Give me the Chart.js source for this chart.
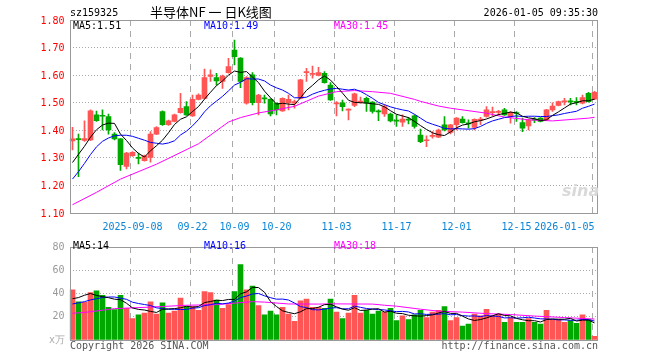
<!DOCTYPE html>
<html><head><meta charset="utf-8">
<script src="https://cdn.jsdelivr.net/npm/chart.js@4.4.1/dist/chart.umd.min.js"></script>
<style>
html,body{margin:0;padding:0;background:#fff;}
#wrap{position:relative;width:660px;height:360px;overflow:hidden;background:#fff;}
canvas{position:absolute;left:0;}
.t{position:absolute;font:10px "DejaVu Sans Mono",monospace;line-height:12px;white-space:pre;}
</style></head><body>
<div id="wrap">
<canvas id="k" width="660" height="236" style="top:0"></canvas>
<canvas id="v" width="660" height="124" style="top:236px"></canvas>
<div class="t" style="left:70px;top:7px;color:#000">sz159325</div>
<div class="t" style="left:150px;top:4px;font:13px 'Noto Sans CJK SC',sans-serif;line-height:16px;color:#000">半导体NF 一 日K线图</div>
<div class="t" style="right:62px;top:7px;color:#000">2026-01-05 09:35:30</div>
<div class="t" style="left:73px;top:20px;color:#000">MA5:1.51</div>
<div class="t" style="left:204px;top:20px;color:#0000ff">MA10:1.49</div>
<div class="t" style="left:334px;top:20px;color:#ff00ff">MA30:1.45</div>
<div class="t" style="left:73px;top:240px;color:#000">MA5:14</div>
<div class="t" style="left:204px;top:240px;color:#0000ff">MA10:16</div>
<div class="t" style="left:334px;top:240px;color:#ff00ff">MA30:18</div>
<div class="t" style="left:49px;top:334px;color:#aaa">x万</div>
<div class="t" style="left:70px;top:340px;color:#555">Copyright 2026 SINA.COM</div>
<div class="t" style="right:62px;top:340px;color:#555">http://finance.sina.com.cn</div>
<div class="t" style="left:562px;top:181px;font:italic bold 16px 'DejaVu Sans',sans-serif;color:#d9d9d9">sina</div>
</div>
<script>
const dates = ['2025-08-25','2025-08-26','2025-08-27','2025-08-28','2025-08-29',
'2025-09-01','2025-09-02','2025-09-03','2025-09-04','2025-09-05',
'2025-09-08','2025-09-09','2025-09-10','2025-09-11','2025-09-12',
'2025-09-15','2025-09-16','2025-09-17','2025-09-18','2025-09-19',
'2025-09-22','2025-09-23','2025-09-24','2025-09-25','2025-09-26','2025-09-29','2025-09-30',
'2025-10-09','2025-10-10','2025-10-13','2025-10-14','2025-10-15','2025-10-16','2025-10-17',
'2025-10-20','2025-10-21','2025-10-22','2025-10-23','2025-10-24',
'2025-10-27','2025-10-28','2025-10-29','2025-10-30','2025-10-31',
'2025-11-03','2025-11-04','2025-11-05','2025-11-06','2025-11-07',
'2025-11-10','2025-11-11','2025-11-12','2025-11-13','2025-11-14',
'2025-11-17','2025-11-18','2025-11-19','2025-11-20','2025-11-21',
'2025-11-24','2025-11-25','2025-11-26','2025-11-27','2025-11-28',
'2025-12-01','2025-12-02','2025-12-03','2025-12-04','2025-12-05',
'2025-12-08','2025-12-09','2025-12-10','2025-12-11','2025-12-12',
'2025-12-15','2025-12-16','2025-12-17','2025-12-18','2025-12-19',
'2025-12-22','2025-12-23','2025-12-24','2025-12-25','2025-12-26',
'2025-12-29','2025-12-30','2025-12-31','2026-01-05'];

const open = [1.361,1.370,1.363,1.365,1.456,1.453,1.450,1.386,1.369,1.269,
1.308,1.300,1.290,1.302,1.386,1.468,1.420,1.432,1.464,1.486,
1.452,1.512,1.516,1.595,1.591,1.577,1.609,1.691,1.662,1.498,
1.601,1.500,1.517,1.512,1.498,1.470,1.500,1.498,1.516,1.609,
1.603,1.599,1.607,1.564,1.496,1.500,1.473,1.490,1.502,1.516,
1.502,1.469,1.459,1.459,1.435,1.429,1.440,1.452,1.383,1.362,
1.378,1.375,1.420,1.392,1.420,1.441,1.425,1.410,1.437,1.450,
1.464,1.465,1.474,1.450,1.463,1.428,1.416,1.439,1.444,1.438,
1.474,1.490,1.503,1.506,1.504,1.498,1.534,1.513];
const high = [1.411,1.386,1.434,1.474,1.470,1.474,1.459,1.392,1.370,1.320,
1.323,1.317,1.310,1.395,1.413,1.471,1.437,1.459,1.534,1.504,
1.528,1.532,1.622,1.619,1.607,1.600,1.661,1.727,1.664,1.595,
1.609,1.530,1.528,1.515,1.500,1.518,1.528,1.510,1.585,1.625,
1.633,1.628,1.613,1.573,1.504,1.510,1.478,1.535,1.520,1.520,
1.504,1.474,1.492,1.462,1.456,1.456,1.447,1.456,1.404,1.380,
1.395,1.404,1.450,1.422,1.446,1.450,1.438,1.442,1.447,1.486,
1.484,1.472,1.480,1.468,1.468,1.444,1.440,1.446,1.446,1.476,
1.500,1.506,1.516,1.516,1.519,1.528,1.538,1.541];
const low = [1.329,1.232,1.360,1.362,1.432,1.401,1.386,1.365,1.254,1.260,
1.305,1.278,1.288,1.284,1.384,1.418,1.418,1.430,1.462,1.454,
1.450,1.510,1.514,1.577,1.564,1.552,1.607,1.637,1.555,1.495,
1.492,1.456,1.498,1.452,1.456,1.468,1.474,1.480,1.514,1.577,
1.589,1.597,1.571,1.508,1.452,1.470,1.438,1.486,1.498,1.468,
1.462,1.435,1.450,1.430,1.414,1.414,1.423,1.408,1.355,1.341,
1.371,1.373,1.398,1.387,1.401,1.426,1.408,1.401,1.420,1.448,
1.452,1.456,1.454,1.426,1.432,1.395,1.401,1.428,1.430,1.436,
1.468,1.488,1.492,1.492,1.492,1.496,1.502,1.511];
const close = [1.369,1.366,1.370,1.471,1.435,1.451,1.401,1.369,1.275,1.317,
1.320,1.298,1.307,1.386,1.410,1.420,1.434,1.456,1.480,1.456,
1.512,1.528,1.591,1.601,1.579,1.597,1.631,1.667,1.577,1.591,
1.500,1.528,1.514,1.459,1.474,1.516,1.512,1.504,1.583,1.612,
1.606,1.609,1.573,1.510,1.499,1.486,1.476,1.532,1.505,1.498,
1.468,1.467,1.486,1.434,1.433,1.441,1.437,1.414,1.359,1.365,
1.381,1.401,1.401,1.420,1.444,1.428,1.423,1.440,1.439,1.474,
1.467,1.467,1.456,1.464,1.461,1.408,1.438,1.437,1.432,1.474,
1.488,1.504,1.506,1.503,1.501,1.519,1.504,1.538];
const volume = [43.2,32.8,32.3,40.8,42.4,38.4,28.0,26.1,38.4,27.2,
18.4,21.6,23.2,32.8,22.4,32.0,23.2,24.8,36.0,28.8,
28.8,25.6,41.6,40.8,34.4,27.2,30.4,41.6,64.8,43.2,
46.4,29.6,21.6,24.8,21.6,28.0,22.4,16.0,33.6,35.2,
28.0,28.0,27.2,35.2,24.0,18.4,23.2,38.4,23.2,25.6,
22.4,24.8,24.0,27.2,16.8,20.8,17.6,21.6,25.6,19.2,
24.0,25.6,28.8,16.8,19.2,12.0,13.6,22.4,20.8,26.4,
20.8,22.4,15.2,19.2,15.2,15.2,18.4,15.2,13.6,25.6,
17.6,17.6,15.2,16.8,14.4,21.6,17.6,3.2];

const ma5 = [1.283,1.313,1.342,1.375,1.402,1.419,1.426,1.425,1.386,1.363,
1.336,1.316,1.303,1.326,1.344,1.364,1.391,1.421,1.440,1.449,
1.468,1.486,1.513,1.538,1.562,1.579,1.600,1.615,1.610,1.613,
1.593,1.573,1.542,1.518,1.495,1.498,1.495,1.493,1.518,1.545,
1.563,1.583,1.597,1.582,1.559,1.535,1.509,1.501,1.500,1.499,
1.496,1.494,1.485,1.471,1.458,1.452,1.446,1.432,1.417,1.403,
1.391,1.384,1.381,1.394,1.409,1.419,1.423,1.431,1.435,1.441,
1.449,1.457,1.461,1.466,1.463,1.451,1.445,1.442,1.435,1.438,
1.454,1.467,1.481,1.495,1.500,1.507,1.507,1.513];
const ma10 = [1.223,1.250,1.280,1.312,1.340,1.360,1.372,1.380,1.382,1.382,
1.378,1.371,1.364,1.356,1.353,1.350,1.354,1.362,1.383,1.397,
1.416,1.439,1.467,1.489,1.506,1.523,1.543,1.564,1.574,1.587,
1.586,1.586,1.579,1.564,1.554,1.546,1.534,1.518,1.518,1.520,
1.531,1.539,1.545,1.550,1.552,1.549,1.546,1.549,1.541,1.529,
1.516,1.501,1.493,1.485,1.479,1.474,1.470,1.458,1.444,1.430,
1.422,1.415,1.407,1.405,1.406,1.405,1.404,1.406,1.414,1.425,
1.434,1.440,1.446,1.450,1.452,1.450,1.451,1.451,1.450,1.450,
1.453,1.456,1.461,1.465,1.469,1.480,1.487,1.495];
const N = null;
const ma30 = [1.130,N,N,N,1.175,N,N,N,1.223,N,
N,N,N,N,1.277,N,N,N,N,N,
N,1.351,N,N,N,N,1.430,N,1.446,N,
N,1.463,N,N,1.474,N,N,1.487,N,N,
N,1.524,N,N,1.540,N,N,1.544,N,N,
1.540,N,N,1.534,N,N,N,1.512,1.505,N,
N,1.488,N,1.480,N,N,N,N,N,1.462,
N,N,1.448,N,N,N,1.438,N,N,N,
1.434,N,N,N,N,N,1.444,1.447];

const vma5 = [35.5,36.5,38.5,40.0,38.3,37.3,36.4,35.1,34.7,31.6,
27.6,26.3,25.8,24.6,23.7,26.4,26.7,27.0,27.7,29.0,
28.3,28.8,32.2,33.1,34.2,33.9,34.9,34.9,39.7,41.4,
45.3,45.1,41.1,33.1,28.8,25.1,23.7,22.6,24.3,27.0,
27.0,28.2,30.4,30.7,28.5,26.6,25.6,27.8,25.4,25.8,
26.6,26.9,24.0,24.8,23.0,22.7,21.3,20.8,20.5,21.0,
21.6,23.2,24.6,22.9,22.9,20.5,18.1,16.8,17.6,19.0,
20.8,22.6,21.1,20.8,18.6,17.4,16.6,16.6,15.5,17.6,
18.1,17.9,17.9,18.6,16.3,17.1,17.1,14.7];
const vma10 = [31.0,32.0,33.0,34.5,35.5,36.5,37.0,37.0,36.0,35.0,
32.5,31.4,30.5,29.7,27.7,27.0,26.5,26.4,26.2,26.3,
27.4,27.8,29.6,30.4,31.6,31.1,31.8,33.5,36.4,37.8,
39.6,40.0,38.0,36.4,35.1,35.2,34.4,31.8,28.7,27.9,
26.1,25.9,26.5,27.5,27.8,26.8,26.9,29.1,28.1,27.1,
26.6,26.2,25.9,25.1,24.4,24.6,24.1,22.4,22.6,22.0,
22.2,22.2,22.7,21.7,21.9,21.0,20.6,20.7,20.2,21.0,
20.6,20.3,19.0,19.2,18.8,19.1,19.6,18.9,18.2,18.1,
17.8,17.3,17.3,17.0,17.0,17.6,17.5,16.3];
const vma30 = [23.0,N,23.7,N,N,25.6,N,27.0,N,N,
N,N,N,28.3,N,N,N,N,N,29.9,
N,N,N,N,30.4,N,N,31.7,N,N,
33.0,N,32.6,N,N,N,31.0,N,N,N,
N,30.9,N,31.1,N,N,N,N,N,N,
30.9,N,29.9,N,29.1,N,N,N,26.5,N,
N,24.8,N,N,N,24.0,N,N,N,22.7,
N,N,N,21.9,N,N,N,20.6,N,N,
N,N,19.3,N,N,N,N,18.0];

const tickIdx = [10,20,27,34,44,54,64,74,87];
const tickText = ['2025-09-08','09-22','10-09','10-20','11-03','11-17','12-01','12-15','2026-01-05'];
const priceTicks = [1.10,1.20,1.30,1.40,1.50,1.60,1.70,1.80];
const volTicks = [0,20,40,60,80];

const RED = '#ff5555', GREEN = '#00a800';
const upColor = i => close[i] >= open[i] ? RED : GREEN;
const MONO = 'DejaVu Sans Mono';

const frame = { id:'frame', afterDraw(c){
  const a=c.chartArea, x=c.ctx;
  const l=Math.round(a.left), t=Math.round(a.top), r=Math.round(a.right), b=Math.round(a.bottom);
  x.save(); x.strokeStyle='#999'; x.lineWidth=1;
  x.strokeRect(l+0.5, t+0.5, r-l-1, b-t);
  x.restore();
}};
// dashed vertical lines at the labelled dates, placed from the x scale
const vgrid = { id:'vgrid', beforeDatasetsDraw(c){
  const s=c.scales.x, a=c.chartArea, x=c.ctx;
  x.save(); x.strokeStyle='#aaaaaa'; x.lineWidth=1; x.setLineDash([6,5]);
  tickIdx.forEach(i=>{
    const px = Math.round((s.getPixelForTick(i)+s.getPixelForTick(i-1))/2)+0.5;
    x.beginPath(); x.moveTo(px,a.top); x.lineTo(px,a.bottom); x.stroke();
  });
  x.restore();
}};

function lineDs(data,color){
  return {type:'line', data, borderColor:color, borderWidth:1, pointRadius:0, spanGaps:true, tension:0, fill:false};
}
const hiddenGrid = {display:true, drawOnChartArea:false, drawTicks:false, tickLength:0, color:'rgba(0,0,0,0)'};

new Chart(document.getElementById('k'), {
  type:'bar',
  data:{
    labels:dates,
    datasets:[
      lineDs(ma5,'#000000'),
      lineDs(ma10,'#0000ff'),
      lineDs(ma30,'#ff00ff'),
      {data: dates.map((d,i)=>[low[i],high[i]]), backgroundColor: ctx=>upColor(ctx.dataIndex), barThickness:1, grouped:false, borderWidth:0},
      {data: dates.map((d,i)=>[open[i],close[i]]), backgroundColor: ctx=>upColor(ctx.dataIndex), barThickness:5, grouped:false, borderWidth:0, minBarLength:1}
    ]
  },
  options:{
    responsive:false, animation:false, events:[],
    layout:{padding:{left:0,right:62.5,top:20,bottom:0}},
    plugins:{legend:{display:false}, tooltip:{enabled:false}},
    scales:{
      x:{
        offset:true, grid:hiddenGrid, border:{display:false},
        ticks:{autoSkip:false, maxRotation:0, minRotation:0, align:'inner', padding:8, color:'#0a84d6',
          font:{family:MONO,size:10},
          callback:(v,i)=>{ const k=tickIdx.indexOf(i); return k>=0 ? tickText[k] : ''; }},
        afterFit:s=>{ s.height=23; }
      },
      y:{
        min:priceTicks[0], max:priceTicks[priceTicks.length-1],
        afterBuildTicks:s=>{ s.ticks = priceTicks.map(v=>({value:v})); },
        ticks:{color:'#ff0000', padding:5, labelOffset:1, font:{family:MONO,size:10}, callback:v=>Number(v).toFixed(2)},
        grid:{color:'#aaaaaa', drawTicks:false, lineWidth:1},
        border:{display:false, dash:[1,2]},
        afterFit:s=>{ s.width=69.5; }
      }
    }
  },
  plugins:[vgrid, frame]
});

new Chart(document.getElementById('v'), {
  type:'bar',
  data:{
    labels:dates,
    datasets:[
      lineDs(vma5,'#000000'),
      lineDs(vma10,'#0000ff'),
      lineDs(vma30,'#ff00ff'),
      {data: volume, backgroundColor: ctx=>upColor(ctx.dataIndex), barThickness:5, grouped:false, borderWidth:0}
    ]
  },
  options:{
    responsive:false, animation:false, events:[],
    layout:{padding:{left:0,right:62.5,top:4,bottom:20}},
    plugins:{legend:{display:false}, tooltip:{enabled:false}},
    scales:{
      x:{
        offset:true, grid:hiddenGrid, border:{display:false},
        ticks:{display:false, autoSkip:false},
        afterFit:s=>{ s.height=0; }
      },
      y:{
        min:volTicks[0], max:volTicks[volTicks.length-1],
        afterBuildTicks:s=>{ s.ticks = volTicks.map(v=>({value:v})); },
        ticks:{color:'#999999', padding:5, font:{family:MONO,size:10}, callback:v=> v===0 ? '' : String(v)},
        grid:{color:'#aaaaaa', drawTicks:false, lineWidth:1},
        border:{display:false, dash:[1,2]},
        afterFit:s=>{ s.width=69.5; }
      }
    }
  },
  plugins:[vgrid, frame]
});
</script>
</body></html>
